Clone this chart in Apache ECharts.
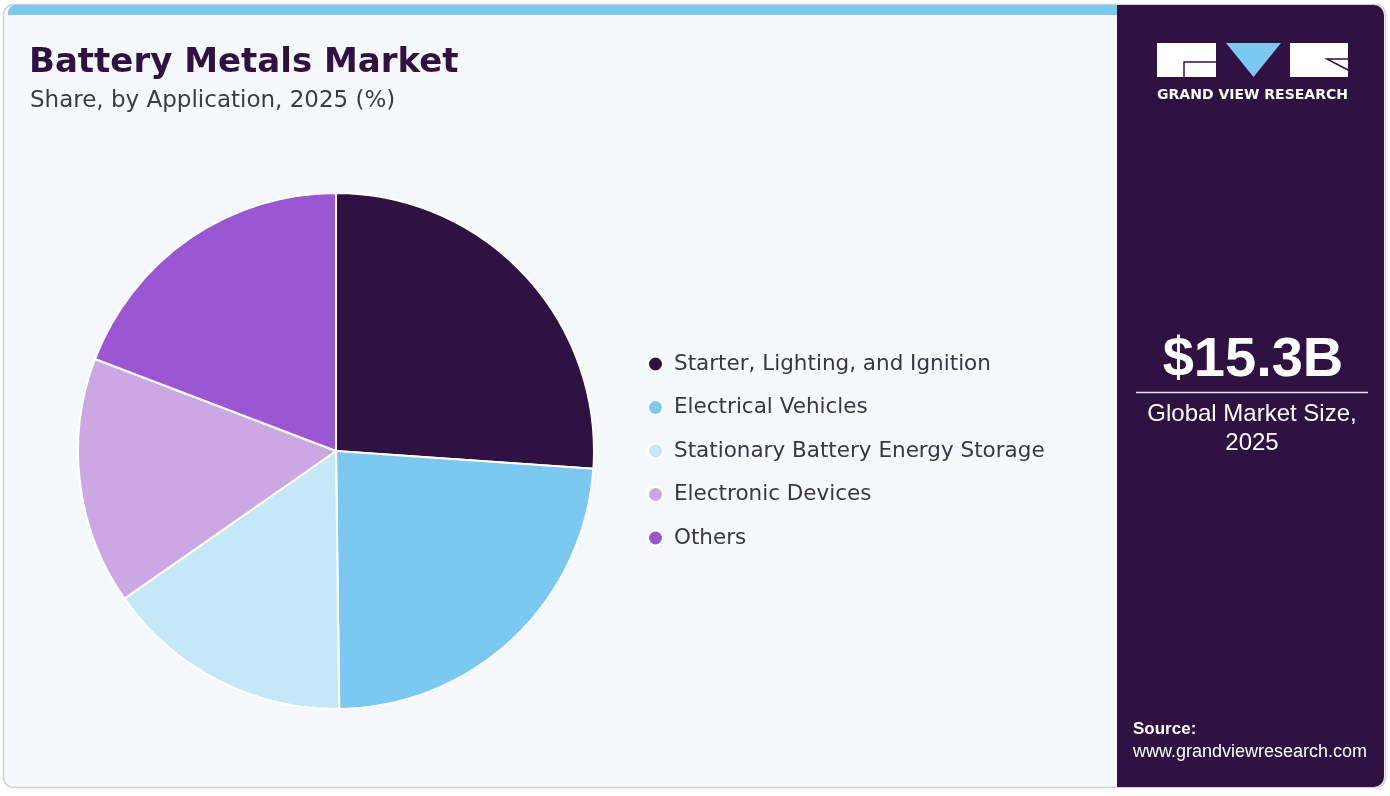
<!DOCTYPE html>
<html>
<head>
<meta charset="utf-8">
<script src="https://cdn.jsdelivr.net/npm/echarts@6/dist/echarts.min.js"></script>
<style>
  html, body { margin: 0; padding: 0; background: #ffffff; }
  #chart { width: 1390px; height: 796px; }
</style>
</head>
<body>
<div id="chart"></div>
<script>
const categories = [
    "Starter, Lighting, and Ignition",
    "Electrical Vehicles",
    "Stationary Battery Energy Storage",
    "Electronic Devices",
    "Others"
];
const shares = [26.1, 23.7, 15.5, 15.5, 19.2];
const colors = ["#2F1242", "#7BC8F0", "#C5E8F7", "#CBA8E3", "#9B57D3"];
const marketSize = "$15.3B";
const marketLabel = "Global Market Size,\n2025";

const font = "Liberation Sans, Arial, sans-serif";
const wide = "DejaVu Sans, sans-serif";
const chart = echarts.init(document.getElementById("chart"), null, { renderer: "canvas" });

chart.setOption({
    animation: false,
    color: colors,
    title: [
        {
            text: "Battery Metals Market",
            left: 24,
            top: 41,
            textStyle: { fontFamily: wide, fontWeight: "bold", fontSize: 34, color: "#2F1242" }
        },
        {
            text: "Share, by Application, 2025 (%)",
            left: 25,
            top: 85,
            textStyle: { fontFamily: wide, fontWeight: "normal", fontSize: 23, color: "#3b3b45" }
        }
    ],
    legend: {
        orient: "vertical",
        left: 642,
        top: 348,
        icon: "circle",
        itemWidth: 15,
        itemHeight: 15,
        itemGap: 21.5,
        data: categories,
        textStyle: { fontFamily: wide, fontSize: 21.5, color: "#3a3644", padding: [0, 0, 0, 6] }
    },
    graphic: [
        // card background
        {
            type: "rect", z: -10, silent: true,
            shape: { x: 3.5, y: 4.5, width: 1382, height: 783, r: 10 },
            style: { fill: "#F5F8FC", stroke: "#D2D2D6", lineWidth: 1.5 }
        },
        // top accent bar
        {
            type: "rect", z: -9, silent: true,
            shape: { x: 8, y: 5, width: 1110, height: 10, r: [8, 0, 0, 0] },
            style: { fill: "#7BC8F0" }
        },
        // right panel
        {
            type: "rect", z: -8, silent: true,
            shape: { x: 1117, y: 5, width: 267, height: 782, r: [0, 10, 10, 0] },
            style: { fill: "#2F1242" }
        },
        // logo
        {
            type: "group", silent: true,
            children: [
                { type: "rect", shape: { x: 1157, y: 43, width: 59, height: 34 }, style: { fill: "#ffffff" } },
                { type: "polyline", shape: { points: [[1216, 62], [1184, 62], [1184, 77]] }, style: { stroke: "#2F1242", lineWidth: 1.5, fill: null } },
                { type: "polygon", shape: { points: [[1226, 43], [1281, 43], [1253.5, 77]] }, style: { fill: "#7BC8F0" } },
                { type: "rect", shape: { x: 1290, y: 43, width: 58, height: 34 }, style: { fill: "#ffffff" } },
                { type: "polyline", shape: { points: [[1348, 59], [1327, 59], [1348, 70]] }, style: { stroke: "#2F1242", lineWidth: 1.5, fill: null } },
                {
                    type: "text", x: 1252.5, y: 95,
                    style: {
                        text: "GRAND VIEW RESEARCH", fill: "#ffffff", align: "center", verticalAlign: "middle",
                        font: "bold 14px " + wide
                    }
                }
            ]
        },
        // market size
        {
            type: "text", silent: true, x: 1253, y: 361,
            style: {
                text: marketSize, fill: "#ffffff", align: "center", verticalAlign: "middle",
                font: "bold 56px " + font
            }
        },
        {
            type: "line", silent: true,
            shape: { x1: 1136, y1: 392.5, x2: 1368, y2: 392.5 },
            style: { stroke: "#e6e0ea", lineWidth: 1.5 }
        },
        {
            type: "text", silent: true, x: 1252, y: 400,
            style: {
                text: marketLabel, fill: "#ffffff", align: "center", verticalAlign: "top",
                font: "24px " + font, lineHeight: 29
            }
        },
        // source
        {
            type: "text", silent: true, x: 1133, y: 721,
            style: { text: "Source:", fill: "#ffffff", font: "bold 17px " + font }
        },
        {
            type: "text", silent: true, x: 1133, y: 743,
            style: { text: "www.grandviewresearch.com", fill: "#ffffff", font: "18px " + font }
        }
    ],
    series: [
        {
            name: "Share",
            type: "pie",
            center: [336, 451],
            radius: [0, 258],
            startAngle: 90,
            clockwise: true,
            label: { show: false },
            labelLine: { show: false },
            emphasis: { disabled: true },
            itemStyle: { borderColor: "#ffffff", borderWidth: 2 },
            data: categories.map((name, i) => ({ name: name, value: shares[i] }))
        }
    ]
});
</script>
</body>
</html>
